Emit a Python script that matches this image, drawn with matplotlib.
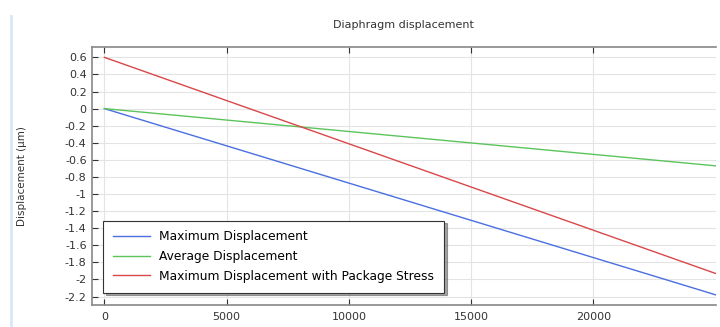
import matplotlib
matplotlib.use("Agg")
import matplotlib.pyplot as plt
import numpy as np

# data (straight lines, end points)
load = [0, 25000]
max_disp = [0.0, -2.18]
avg_disp = [0.0, -0.67]
max_disp_pkg = [0.6, -1.93]
labels = ["Maximum Displacement", "Average Displacement",
          "Maximum Displacement with Package Stress"]

plt.rcParams['font.family'] = ['DejaVu Sans']
fig = plt.figure(figsize=(7.2, 3.27), dpi=100)
ax = fig.add_axes([0.128, 0.067, 0.866, 0.789])

ax.plot(load, max_disp, color='#4a6fe0', lw=1.0, label=labels[0])
ax.plot(load, avg_disp, color='#5cc45c', lw=1.0, label=labels[1])
ax.plot(load, max_disp_pkg, color='#d9474a', lw=1.0, label=labels[2])

ax.set_xlim(-500, 25000)
ax.set_ylim(-2.3, 0.72)
ax.set_xticks([0, 5000, 10000, 15000, 20000])
yt = np.round(np.arange(-2.2, 0.61, 0.2), 1)
ax.set_yticks(yt)
ax.set_yticklabels([('%g' % v) for v in yt])
ax.grid(True, color='#e4e4e4', lw=0.8)
ax.tick_params(direction='in', length=4, labelsize=8, colors='#333333',
               top=True, right=False, pad=4)
ax.tick_params(axis='x', pad=5)
for s in ax.spines.values():
    s.set_color('#888888')
    s.set_linewidth(1.2)
ax.spines['right'].set_visible(False)

ax.set_title("Diaphragm displacement", fontsize=8, color='#333333', pad=14)
ax.set_ylabel("Displacement (\u00b5m)", fontsize=7.5, color='#333333', labelpad=27)

leg = ax.legend(loc='lower left', bbox_to_anchor=(0.008, 0.025), fontsize=8.8,
                frameon=True, fancybox=False, shadow=True, borderpad=0.8,
                labelspacing=0.55, handlelength=3.0)
leg.get_frame().set_edgecolor('#333333')
leg.get_frame().set_linewidth(0.8)

# left border strip
fig.add_artist(plt.Line2D([0.015, 0.015], [0, 0.95], color='#d6e8f7', lw=2))

fig.savefig("out.png", dpi=100)
